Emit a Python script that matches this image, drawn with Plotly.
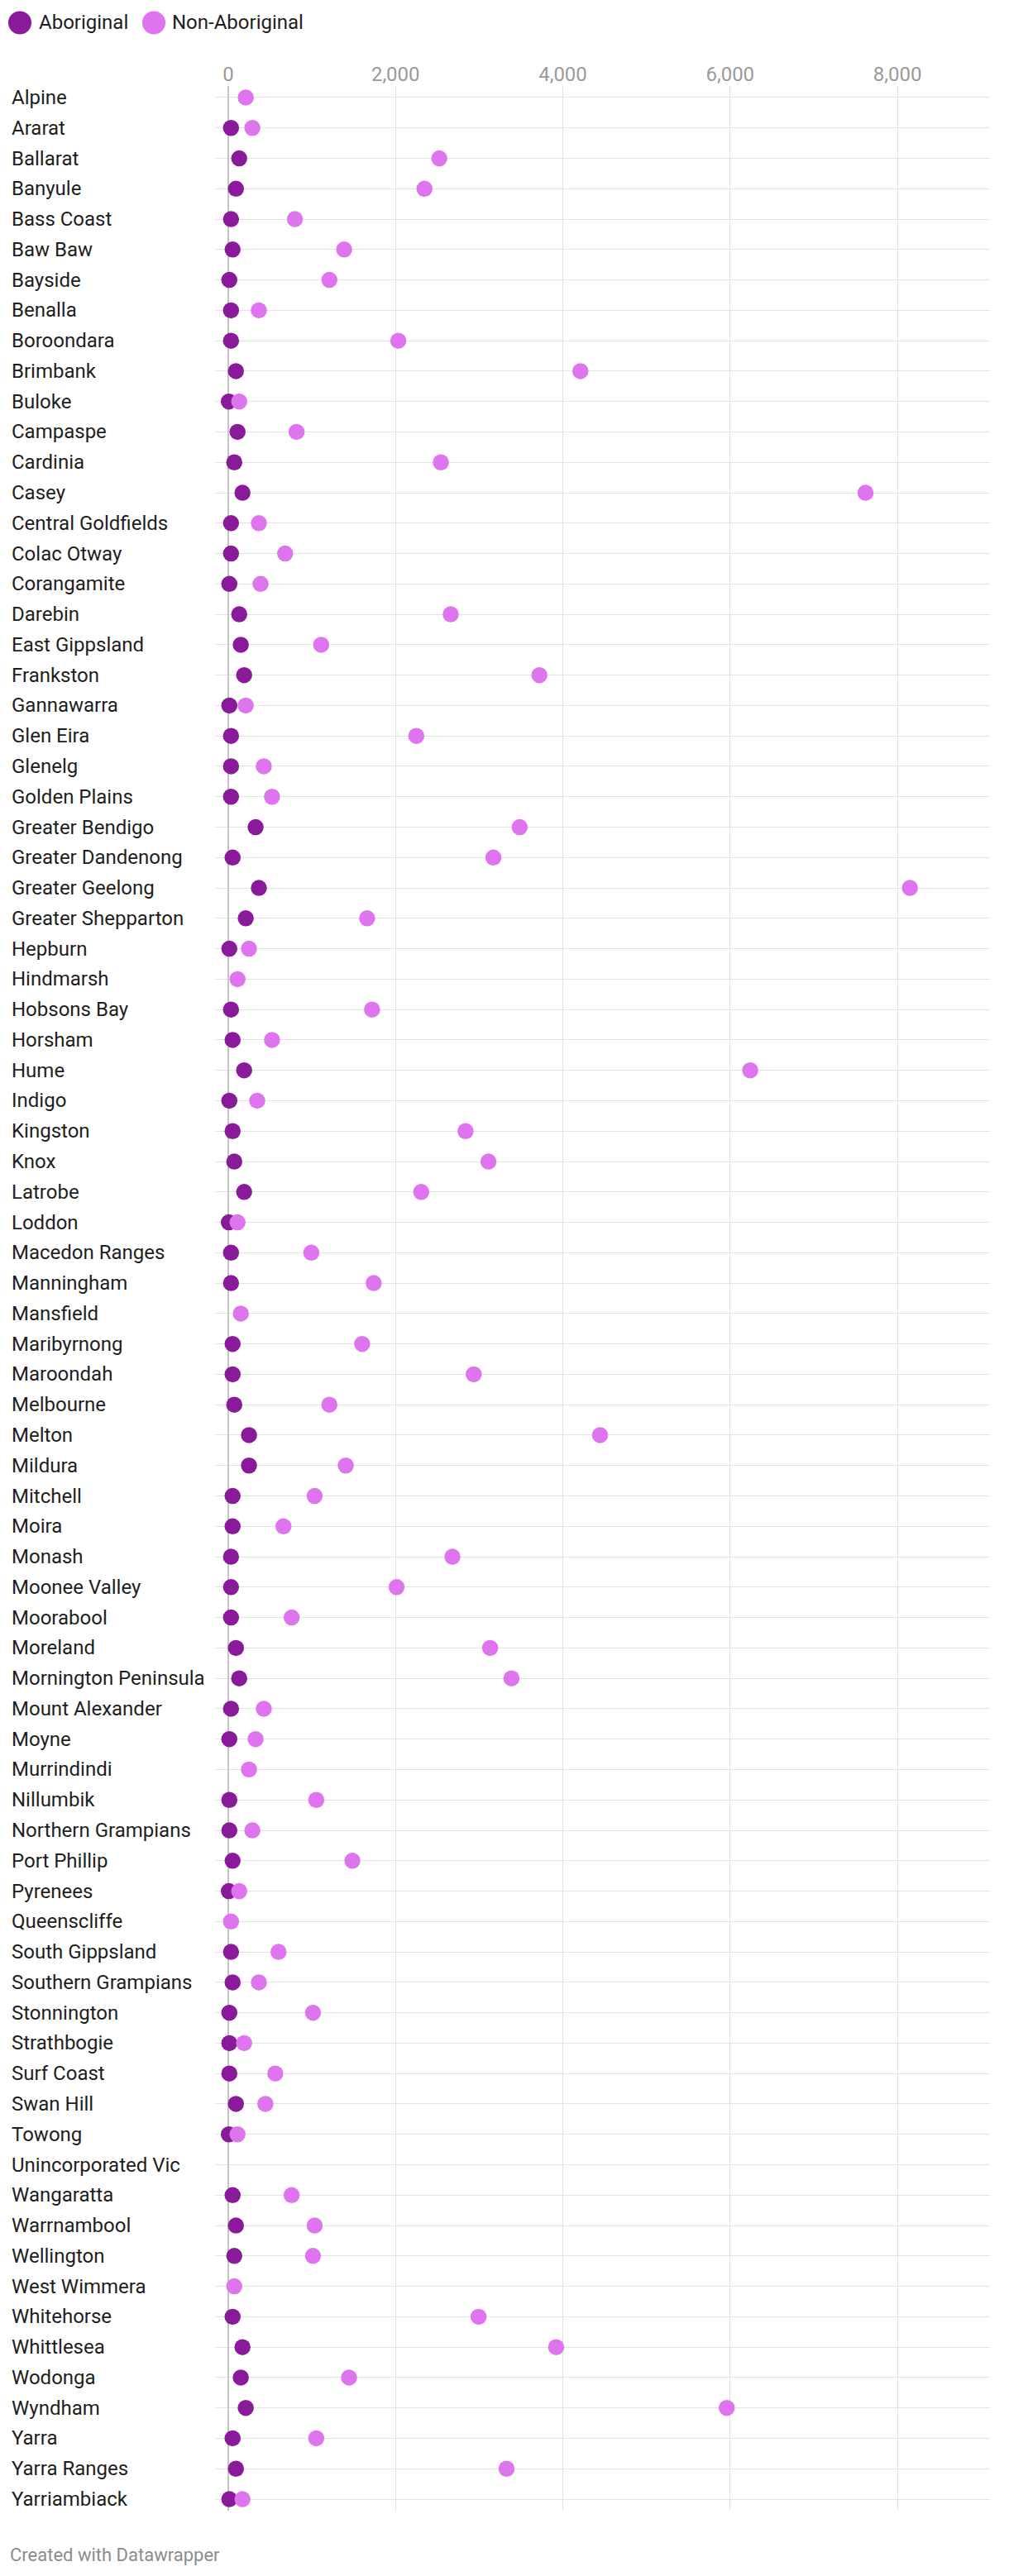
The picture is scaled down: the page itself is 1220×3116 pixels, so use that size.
import plotly.graph_objects as go

councils = ["Alpine", "Ararat", "Ballarat", "Banyule", "Bass Coast", "Baw Baw", "Bayside", "Benalla",
            "Boroondara", "Brimbank", "Buloke", "Campaspe", "Cardinia", "Casey", "Central Goldfields",
            "Colac Otway", "Corangamite", "Darebin", "East Gippsland", "Frankston", "Gannawarra",
            "Glen Eira", "Glenelg", "Golden Plains", "Greater Bendigo", "Greater Dandenong",
            "Greater Geelong", "Greater Shepparton", "Hepburn", "Hindmarsh", "Hobsons Bay", "Horsham",
            "Hume", "Indigo", "Kingston", "Knox", "Latrobe", "Loddon", "Macedon Ranges", "Manningham",
            "Mansfield", "Maribyrnong", "Maroondah", "Melbourne", "Melton", "Mildura", "Mitchell",
            "Moira", "Monash", "Moonee Valley", "Moorabool", "Moreland", "Mornington Peninsula",
            "Mount Alexander", "Moyne", "Murrindindi", "Nillumbik", "Northern Grampians",
            "Port Phillip", "Pyrenees", "Queenscliffe", "South Gippsland", "Southern Grampians",
            "Stonnington", "Strathbogie", "Surf Coast", "Swan Hill", "Towong", "Unincorporated Vic",
            "Wangaratta", "Warrnambool", "Wellington", "West Wimmera", "Whitehorse", "Whittlesea",
            "Wodonga", "Wyndham", "Yarra", "Yarra Ranges", "Yarriambiack"]

aboriginal = [None, 33, 131, 92, 33, 52, 13, 33,
              33, 92, 7, 111, 72, 170, 33,
              33, 13, 131, 150, 190, 13,
              33, 33, 33, 327, 52,
              366, 209, 13, None, 33, 52,
              190, 13, 52, 72, 190, 7, 33, 33,
              None, 52, 52, 72, 248, 248, 52,
              52, 33, 33, 33, 92, 131,
              33, 13, None, 13, 13,
              52, 7, None, 33, 52,
              13, 13, 13, 92, 7, None,
              52, 92, 72, None, 52, 170,
              150, 209, 52, 92, 13]

non_aboriginal = [209, 288, 2523, 2346, 797, 1386, 1209, 366,
                  2033, 4210, 131, 817, 2542, 7619, 366,
                  680, 386, 2660, 1111, 3720, 209,
                  2248, 425, 523, 3484, 3170,
                  8150, 1660, 248, 111, 1719, 523,
                  6240, 346, 2837, 3111, 2307, 111, 993, 1739,
                  150, 1601, 2935, 1209, 4445, 1405, 1033,
                  660, 2680, 2013, 758, 3131, 3386,
                  425, 327, 248, 1052, 288,
                  1484, 131, 33, 601, 366,
                  1013, 190, 562, 444, 111, None,
                  758, 1033, 1013, 72, 2993, 3920,
                  1444, 5960, 1052, 3327, 170]

x_ticks = [0, 2000, 4000, 6000, 8000]
x_tick_labels = ["0", "2,000", "4,000", "6,000", "8,000"]
series_names = ["Aboriginal", "Non-Aboriginal"]
colors = ["#891a9a", "#df74ef"]

# the page body has an 8px margin; work in page pixels and shift
OFF = 8
W, H = 1220 - OFF, 3116 - OFF
L, R, T, B = 260 - OFF, 23, 104 - OFF, 79
PW, PH = W - L - R, H - T - B
FONT = "Roboto, 'Noto Sans', sans-serif"


def px(xp):
    return (xp - OFF - L) / PW


def py(yp):
    return (H - B - (yp - OFF)) / PH


fig = go.Figure()
for name, vals, col in zip(series_names, [aboriginal, non_aboriginal], colors):
    fig.add_trace(go.Scatter(
        x=vals, y=councils, mode="markers", name=name,
        marker=dict(size=19.5, color=col, line=dict(width=0)),
        cliponaxis=False, showlegend=False,
    ))

annotations = []
for c in councils:
    annotations.append(dict(
        x=px(12), xref="paper", y=c, yref="y", text=c, showarrow=False,
        xanchor="left", yanchor="middle", font=dict(family=FONT, size=24, color="#1e1e1e"),
    ))

# legend
shapes = []
legend_items = [(24, 45), (186, 206)]
for (cx, tx), name, col in zip(legend_items, series_names, colors):
    shapes.append(dict(type="circle", xref="paper", yref="paper",
                       x0=px(cx - 14), x1=px(cx + 14), y0=py(27.5 + 14), y1=py(27.5 - 14),
                       fillcolor=col, line=dict(width=0)))
    annotations.append(dict(x=px(tx), xref="paper", y=py(27.5), yref="paper", text=name,
                            showarrow=False, xanchor="left", yanchor="middle",
                            font=dict(family=FONT, size=24, color="#1e1e1e")))

annotations.append(dict(x=px(10), xref="paper", y=py(3090), yref="paper",
                        text="Created with Datawrapper", showarrow=False,
                        xanchor="left", yanchor="middle",
                        font=dict(family=FONT, size=22, color="#8c8c8c")))

fig.update_layout(
    width=W, height=H,
    margin=dict(l=L, r=R, t=T, b=B),
    plot_bgcolor="white", paper_bgcolor="white",
    showlegend=False,
    annotations=annotations, shapes=shapes,
    xaxis=dict(side="top", range=[-158, 9107], tickvals=x_ticks, ticktext=x_tick_labels,
               showgrid=True, gridcolor="#e3e3e3", gridwidth=1.3,
               zeroline=True, zerolinecolor="#c4c4c4", zerolinewidth=2,
               showline=False, ticks="", fixedrange=True,
               tickfont=dict(family=FONT, size=24, color="#9a9a9a")),
    yaxis=dict(categoryorder="array", categoryarray=councils,
               range=[len(councils) - 1 + 0.38, -0.38],
               showgrid=True, gridcolor="#e3e3e3", gridwidth=1.3,
               showticklabels=False, ticks="", zeroline=False, showline=False),
    font=dict(family=FONT),
)

fig.write_html("out.html")
